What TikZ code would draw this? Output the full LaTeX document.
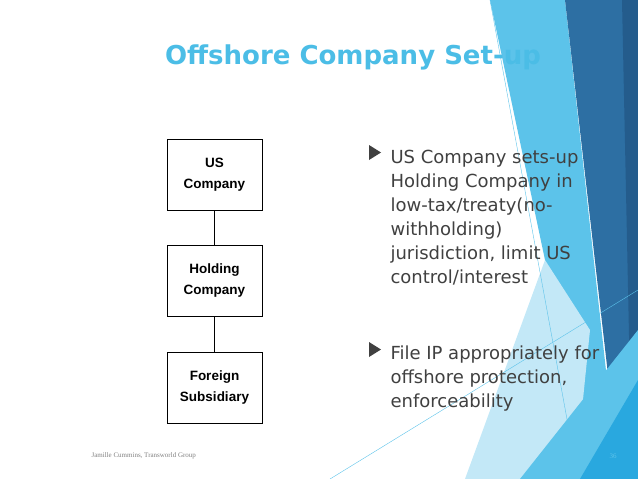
\documentclass[tikz,border=0pt]{standalone}
\usepackage{fontspec}
\setmainfont{DejaVu Sans}
\newfontfamily\boxfont{Liberation Sans}
\newfontfamily\footfont{Liberation Serif}
\usetikzlibrary{positioning}
\definecolor{titlecyan}{HTML}{4BBDE6}
\definecolor{palecyan}{HTML}{C3E8F7}
\definecolor{bandcyan}{HTML}{5CC3EA}
\definecolor{darkblue}{HTML}{2D6FA3}
\definecolor{navyblue}{HTML}{245C8C}
\definecolor{brightblue}{HTML}{29A8DF}
\definecolor{textgray}{HTML}{404040}
\begin{document}
\begin{tikzpicture}[x=1pt,y=-1pt,
    orgbox/.style={draw, thick, minimum width=95pt, minimum height=71pt, align=center, font=\boxfont\bfseries\fontsize{13.5}{21}\selectfont},
    bullettext/.style={anchor=north west, align=left, text=textgray, font=\fontsize{18}{24}\selectfont},
    marker/.style={fill=textgray, draw=none},
  ]
  \useasboundingbox (0,0) rectangle (638,479);
  % decoration
  \fill[bandcyan] (490,0) -- (565,0) -- (618,479) -- (560,479) -- (545,260) -- cycle;
  \fill[palecyan] (545,260) -- (465,479) -- (575,479) -- (590,330) -- cycle;
  \fill[darkblue] (565,0) -- (638,0) -- (638,479) -- (620,479) -- cycle;
  \fill[navyblue] (622,0) -- (638,0) -- (638,479) -- (632,479) -- cycle;
  \fill[bandcyan] (520,479) -- (638,330) -- (638,479) -- cycle;
  \fill[brightblue] (580,479) -- (638,380) -- (638,479) -- cycle;
  \draw[bandcyan, thin] (490,0) -- (578,479);
  \draw[bandcyan, thin] (330,479) -- (638,290);
  % title
  \node[font=\bfseries\fontsize{26}{30}\selectfont, text=titlecyan] (title) at (353,57) {Offshore Company Set-up};
  % boxes
  \node[orgbox] (us) at (214.5,174.5) {US\\Company};
  \node[orgbox] (holding) at (214.5,281) {Holding\\Company};
  \node[orgbox] (foreign) at (214.5,387.5) {Foreign\\Subsidiary};
  \draw[thick] (us) -- (holding);
  \draw[thick] (holding) -- (foreign);
  % bullets
  \fill[marker] (369,145) -- (381,152.5) -- (369,160) -- cycle;
  \node[bullettext] (first) at (387,147) {US Company sets-up\\Holding Company in\\low-tax/treaty(no-\\withholding)\\jurisdiction, limit US\\control/interest};
  \fill[marker] (369,342) -- (381,349.5) -- (369,357) -- cycle;
  \node[bullettext] (second) at (387,342) {File IP appropriately for\\offshore protection,\\enforceability};
  % footer
  \node[anchor=west, text=gray, font=\footfont\fontsize{7}{8}\selectfont] (author) at (88,456) {Jamille Cummins, Transworld Group};
  \node[text=bandcyan, font=\footfont\fontsize{7}{8}\selectfont] (page) at (613,456) {36};
\end{tikzpicture}
\end{document}
